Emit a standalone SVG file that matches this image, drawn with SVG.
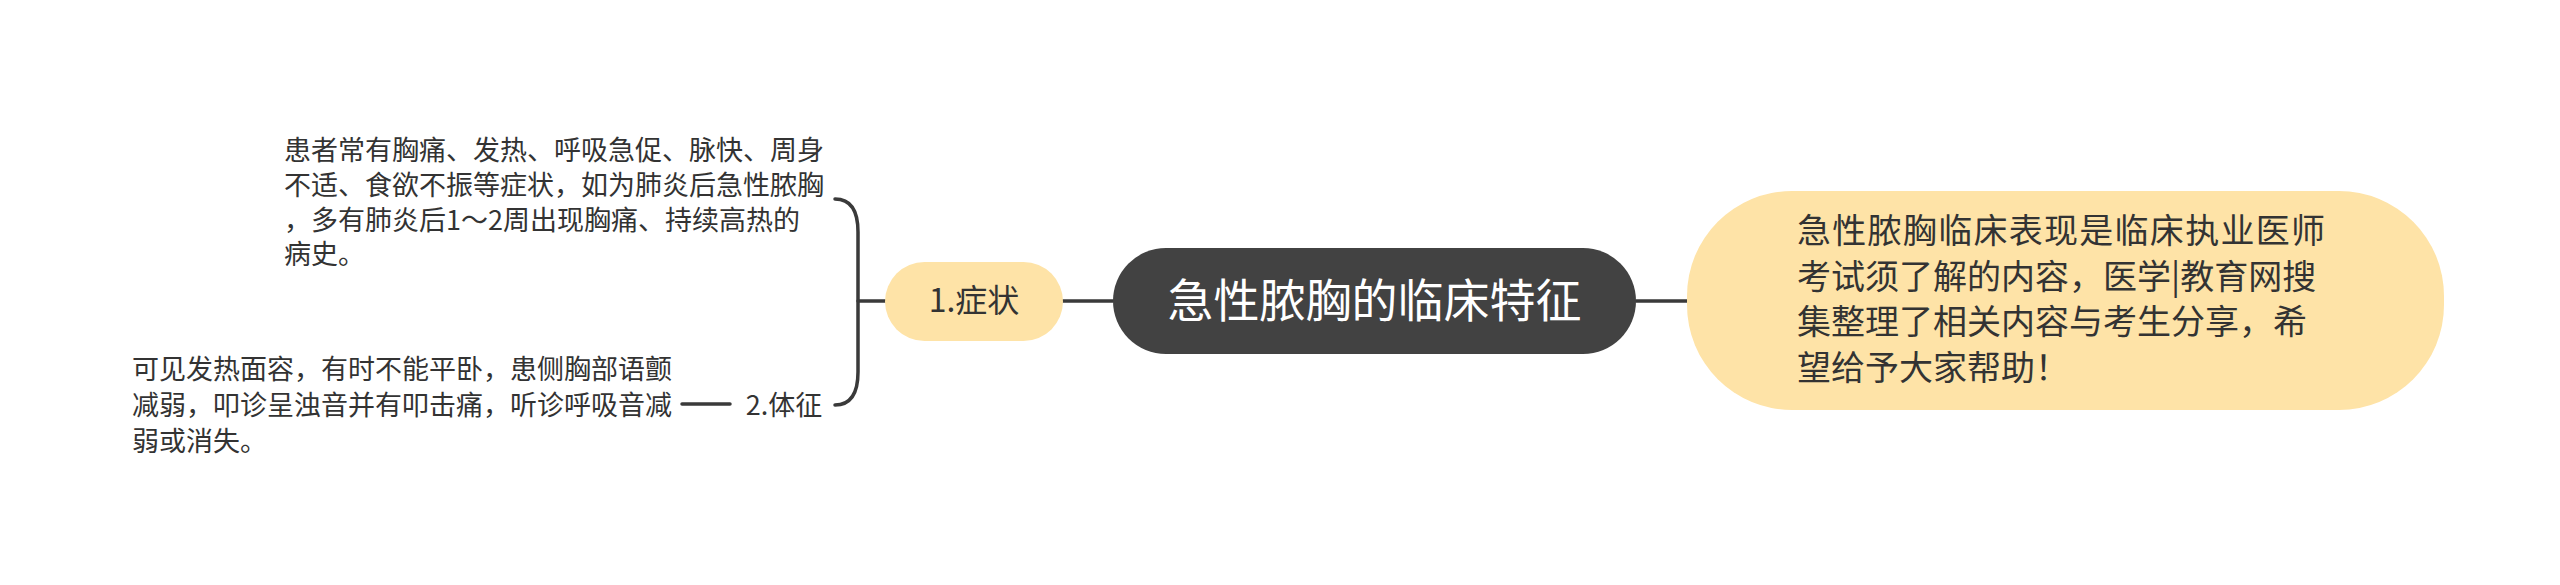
<svg xmlns="http://www.w3.org/2000/svg" width="2560" height="585" viewBox="0 0 2560 585">
<style>
.t{font-family:"Noto Sans CJK SC","Noto Sans",sans-serif;fill:#333333}
.w{font-family:"Noto Sans CJK SC","Noto Sans",sans-serif;fill:#ffffff}
.c{fill:none;stroke:#3a3a3a;stroke-width:3.5;stroke-linecap:round}
.y{fill:#FEE3A7}
.n{font-size:34px}
.s{font-size:27px}
</style>
<rect width="2560" height="585" fill="#ffffff"/>
<g id="connectors">
<path class="c" d="M1063,301 L1113,301"/>
<path class="c" d="M1636,301 L1687,301"/>
<path class="c" d="M885,301 L858,301"/>
<path class="c" d="M835,199 Q858,199 858,232 L858,372 Q858,405 835,405"/>
<path class="c" d="M682,404 L730,404"/>
</g>
<g id="root">
<rect x="1113" y="248" width="523" height="106" rx="53" fill="#424242"/>
<text class="w" x="1374.5" y="317" font-size="46" text-anchor="middle">急性脓胸的临床特征</text>
</g>
<g id="note">
<rect class="y" x="1687" y="191" width="757" height="219" rx="105"/>
<text class="t n" x="1797" y="243" textLength="528" lengthAdjust="spacing">急性脓胸临床表现是临床执业医师</text>
<text class="t n" x="1797" y="289">考试须了解的内容，医学|教育网搜</text>
<text class="t n" x="1797" y="334">集整理了相关内容与考生分享，希</text>
<text class="t n" x="1797" y="380">望给予大家帮助！</text>
</g>
<g id="symptom">
<rect class="y" x="885" y="262" width="178" height="79" rx="39.5"/>
<text class="t" x="974" y="312" font-size="32" text-anchor="middle">1.症状</text>
</g>
<g id="symptom-detail">
<text class="t s" x="284" y="160">患者常有胸痛、发热、呼吸急促、脉快、周身</text>
<text class="t s" x="284" y="195">不适、食欲不振等症状，如为肺炎后急性脓胸</text>
<text class="t s" x="284" y="230">，多有肺炎后1～2周出现胸痛、持续高热的</text>
<text class="t s" x="284" y="264">病史。</text>
</g>
<g id="sign">
<text class="t s" x="784" y="415" text-anchor="middle">2.体征</text>
</g>
<g id="sign-detail">
<text class="t s" x="132" y="379">可见发热面容，有时不能平卧，患侧胸部语颤</text>
<text class="t s" x="132" y="415">减弱，叩诊呈浊音并有叩击痛，听诊呼吸音减</text>
<text class="t s" x="132" y="451">弱或消失。</text>
</g>
</svg>
